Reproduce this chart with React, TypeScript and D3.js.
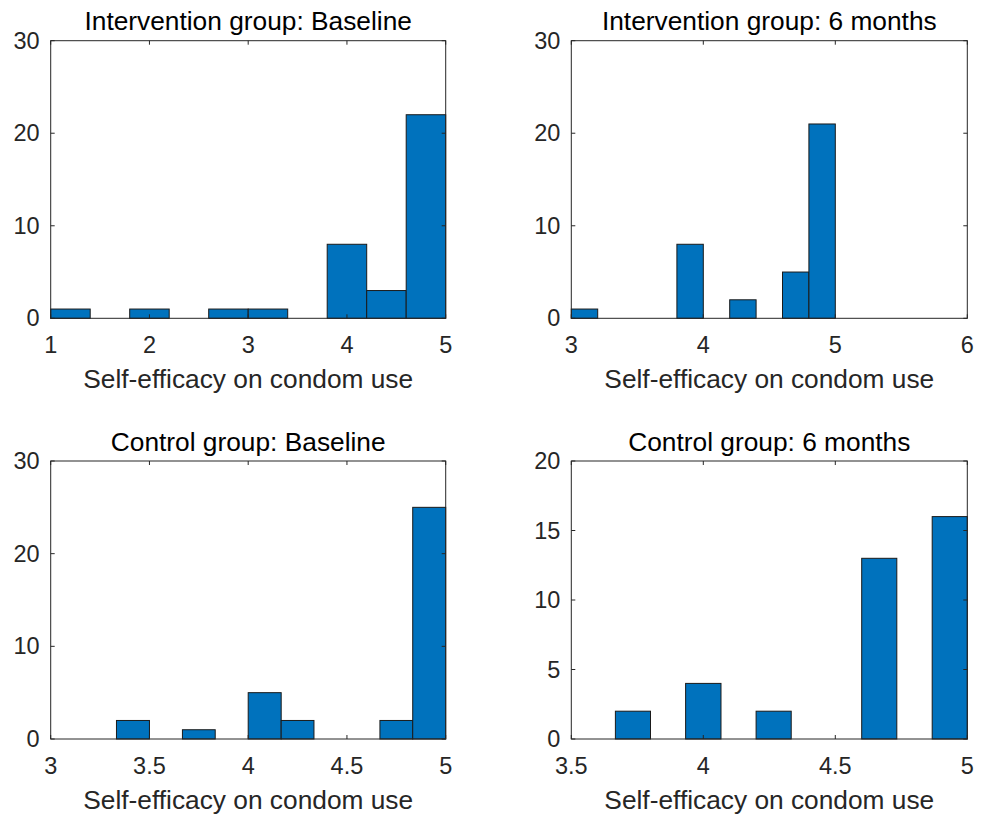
import React from "react";
import * as d3 from "d3";

const titles = [
  "Intervention group: Baseline",
  "Intervention group: 6 months",
  "Control group: Baseline",
  "Control group: 6 months",
];
const xLabel = "Self-efficacy on condom use";

const p1Edges = [1, 1.4, 1.8, 2.2, 2.6, 3, 3.4, 3.8, 4.2, 4.6, 5];
const p1Counts = [1, 0, 1, 0, 1, 1, 0, 8, 3, 22];
const p2Edges = [3, 3.2, 3.4, 3.6, 3.8, 4, 4.2, 4.4, 4.6, 4.8, 5];
const p2Counts = [1, 0, 0, 0, 8, 0, 2, 0, 5, 21];
const p3Edges = [3.333, 3.5, 3.667, 3.833, 4, 4.167, 4.333, 4.5, 4.667, 4.833, 5];
const p3Counts = [2, 0, 1, 0, 5, 2, 0, 0, 2, 25];
const p4Edges = [3.667, 3.8, 3.933, 4.067, 4.2, 4.333, 4.467, 4.6, 4.733, 4.867, 5];
const p4Counts = [2, 0, 4, 0, 2, 0, 0, 13, 0, 16];

const xDomains = [[1, 5], [3, 6], [3, 5], [3.5, 5]];
const yDomains = [[0, 30], [0, 30], [0, 30], [0, 20]];
const xTicks = [[1, 2, 3, 4, 5], [3, 4, 5, 6], [3, 3.5, 4, 4.5, 5], [3.5, 4, 4.5, 5]];
const yTicks = [[0, 10, 20, 30], [0, 10, 20, 30], [0, 10, 20, 30], [0, 5, 10, 15, 20]];

const edges = [p1Edges, p2Edges, p3Edges, p4Edges];
const counts = [p1Counts, p2Counts, p3Counts, p4Counts];

const boxes = [
  { l: 50.7, r: 445.7, t: 40.7, b: 318.3 },
  { l: 571.3, r: 967.3, t: 40.7, b: 318.3 },
  { l: 50.7, r: 445.7, t: 461, b: 739 },
  { l: 571.3, r: 967.3, t: 461, b: 739 },
];

const FONT = "'Liberation Sans', Arial, Helvetica, sans-serif";
const AX = "#262626";
const BAR = "#0072BD";

function Panel({ i }: { i: number }) {
  const bx = boxes[i];
  const x = d3.scaleLinear().domain(xDomains[i]).range([bx.l, bx.r]);
  const y = d3.scaleLinear().domain(yDomains[i]).range([bx.b, bx.t]);
  const e = edges[i];
  const c = counts[i];
  const tl = 4;
  const fmt = (v: number) => String(v);
  return (
    <g>
      {c.map((v, k) => (
        <rect
          key={k}
          x={x(e[k])}
          y={y(v)}
          width={x(e[k + 1]) - x(e[k])}
          height={y(0) - y(v)}
          fill={BAR}
          stroke="#1a1a1a"
          strokeWidth={1}
        />
      ))}
      <rect x={bx.l} y={bx.t} width={bx.r - bx.l} height={bx.b - bx.t} fill="none" stroke={AX} strokeWidth={1} />
      {xTicks[i].map((t) => (
        <g key={"x" + t}>
          <line x1={x(t)} x2={x(t)} y1={bx.b} y2={bx.b - tl} stroke={AX} />
          <line x1={x(t)} x2={x(t)} y1={bx.t} y2={bx.t + tl} stroke={AX} />
          <text x={x(t)} y={bx.b + 35} textAnchor="middle" fontSize={23.5} fill={AX} fontFamily={FONT}>
            {fmt(t)}
          </text>
        </g>
      ))}
      {yTicks[i].map((t) => (
        <g key={"y" + t}>
          <line x1={bx.l} x2={bx.l + tl} y1={y(t)} y2={y(t)} stroke={AX} />
          <line x1={bx.r} x2={bx.r - tl} y1={y(t)} y2={y(t)} stroke={AX} />
          <text x={bx.l - 11} y={y(t) + 8} textAnchor="end" fontSize={23.5} fill={AX} fontFamily={FONT}>
            {fmt(t)}
          </text>
        </g>
      ))}
      <text x={(bx.l + bx.r) / 2} y={bx.t - 10.5} textAnchor="middle" fontSize={26.3} fill="#000" fontFamily={FONT}>
        {titles[i]}
      </text>
      <text x={(bx.l + bx.r) / 2} y={bx.b + 70} textAnchor="middle" fontSize={26.3} fill={AX} fontFamily={FONT}>
        {xLabel}
      </text>
    </g>
  );
}

export default function App() {
  return (
    <svg width={983} height={816} style={{ position: "absolute", left: 0, top: 0, background: "#fff" }}>
      <rect width={983} height={816} fill="#fff" />
      {[0, 1, 2, 3].map((i) => (
        <Panel key={i} i={i} />
      ))}
    </svg>
  );
}
